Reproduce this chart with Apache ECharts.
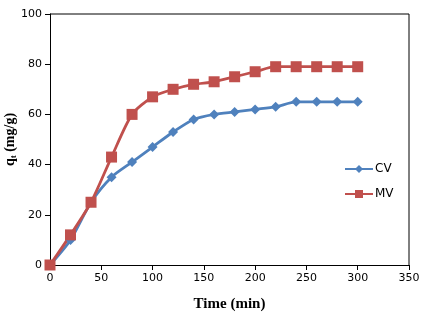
<!DOCTYPE html>
<html>
<head>
<meta charset="utf-8">
<script src="https://cdn.jsdelivr.net/npm/echarts@6/dist/echarts.min.js"></script>
<style>
html, body { margin: 0; padding: 0; background: #fff; }
#chart { width: 430px; height: 327px; }
</style>
</head>
<body>
<div id="chart"></div>
<script>
// 数据
var time = [0, 20, 40, 60, 80, 100, 120, 140, 160, 180, 200, 220, 240, 260, 280, 300];
var cv = [0, 10, 25, 35, 41, 47, 53, 58, 60, 61, 62, 63, 65, 65, 65, 65];
var mv = [0, 12, 25, 43, 60, 67, 70, 72, 73, 75, 77, 79, 79, 79, 79, 79];

function pairs(xs, ys) {
  return xs.map(function (x, i) { return [x, ys[i]]; });
}

var chart = echarts.init(document.getElementById("chart"));
var tickFont = { color: "#000", fontFamily: "DejaVu Sans", fontSize: 11 };
var option = {
  animation: false,
  grid: { left: 50, right: 21, top: 14, bottom: 62, outerBoundsMode: "none", containLabel: false },
  legend: {
    orient: "vertical",
    left: 339,
    top: 158,
    itemGap: 13,
    itemWidth: 28,
    itemHeight: 10,
    textStyle: { color: "#000", fontFamily: "DejaVu Sans", fontSize: 12, padding: [0, 0, 0, -3] },
    data: ["CV", "MV"]
  },
  xAxis: {
    type: "value",
    min: 0,
    max: 350,
    interval: 50,
    name: "Time (min)",
    nameLocation: "middle",
    nameGap: 32,
    nameMoveOverlap: false,
    nameTextStyle: { color: "#000", fontFamily: "Liberation Serif", fontWeight: "bold", fontSize: 15 },
    axisLine: { show: true, lineStyle: { color: "#000", width: 1 } },
    axisTick: { show: true, inside: false, length: 5, lineStyle: { color: "#000" } },
    axisLabel: tickFont,
    splitLine: { show: false }
  },
  yAxis: {
    type: "value",
    min: 0,
    max: 100,
    interval: 20,
    name: "{q|q}{t|t}{q| (mg/g)}",
    nameLocation: "middle",
    nameGap: 32,
    nameMoveOverlap: false,
    nameTextStyle: {
      rich: {
        q: { color: "#000", fontFamily: "Liberation Serif", fontWeight: "bold", fontSize: 14 },
        t: { color: "#000", fontFamily: "Liberation Serif", fontWeight: "bold", fontSize: 9, verticalAlign: "bottom", padding: [6, 0, 0, 0] }
      }
    },
    axisLine: { show: true, lineStyle: { color: "#000", width: 1 } },
    axisTick: { show: true, inside: false, length: 5, lineStyle: { color: "#000" } },
    axisLabel: tickFont,
    splitLine: { show: false }
  },
  series: [
    {
      name: "CV",
      type: "line",
      smooth: 0.25,
      symbol: "diamond",
      symbolSize: 10,
      color: "#4F81BD",
      lineStyle: { width: 2.8 },
      data: pairs(time, cv)
    },
    {
      name: "MV",
      type: "line",
      smooth: 0.25,
      symbol: "rect",
      symbolSize: 11,
      color: "#C0504D",
      lineStyle: { width: 2.8 },
      data: pairs(time, mv)
    }
  ],
  graphic: [
    // 右上边框
    { type: "polyline", shape: { points: [[50, 14], [409, 14], [409, 265]] }, style: { stroke: "#000", lineWidth: 1, fill: null } }
  ]
};
chart.setOption(option);
</script>
</body>
</html>
